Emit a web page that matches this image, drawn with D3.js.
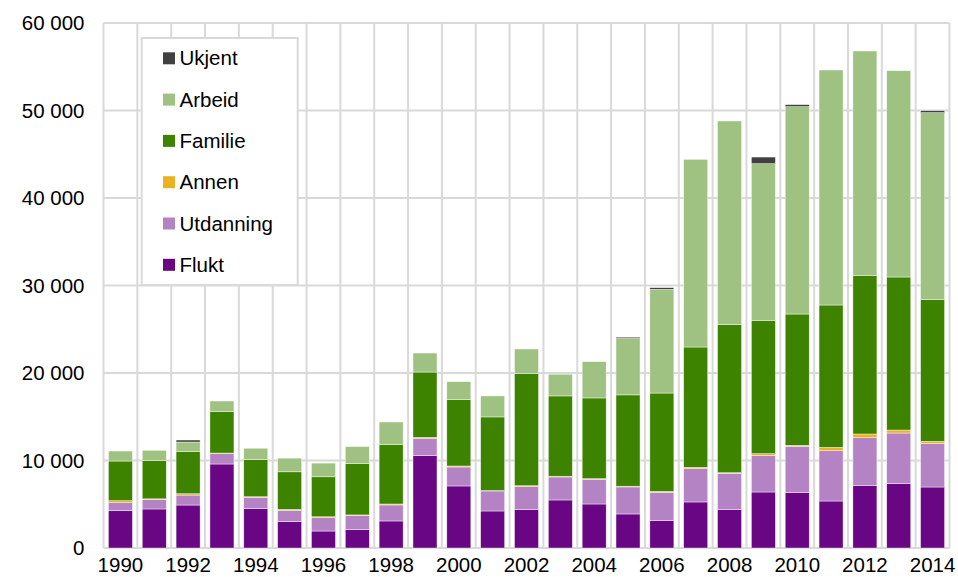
<!DOCTYPE html>
<html>
<meta charset="utf-8">
<style>
    body { margin: 0; background: #fff; }
    text { font-family: "Liberation Sans", Arial, sans-serif; fill: #000; }
    .grid line { stroke: #d9d9d9; stroke-width: 2px; }
    .bar rect { stroke: #fff; stroke-width: 0.6px; stroke-opacity: 0.7; }
</style>

<body>

    <!-- load the d3.js library -->
    <script src="https://d3js.org/d3.v7.min.js"></script>
    <script>

        // categories (years) and the x labels that are shown
        var years = [1990, 1991, 1992, 1993, 1994, 1995, 1996, 1997, 1998, 1999,
            2000, 2001, 2002, 2003, 2004, 2005, 2006, 2007, 2008, 2009,
            2010, 2011, 2012, 2013, 2014];
        var yearLabels = [1990, 1992, 1994, 1996, 1998, 2000, 2002, 2004, 2006, 2008, 2010, 2012, 2014];
        var yTicks = [0, 10000, 20000, 30000, 40000, 50000, 60000];

        // series values, one per year
        var flukt = [4260, 4460, 4910, 9600, 4530, 3010, 1940, 2100, 3090, 10550,
            7090, 4230, 4420, 5490, 5030, 3890, 3120, 5260, 4380, 6400,
            6320, 5370, 7120, 7350, 6970];
        var utdanning = [920, 1100, 1140, 1180, 1260, 1290, 1520, 1600, 1830, 1980,
            2170, 2290, 2590, 2630, 2820, 3090, 3240, 3810, 4150, 4190,
            5300, 5750, 5490, 5790, 4990];
        var annen = [230, 60, 150, 70, 70, 110, 110, 80, 110, 110,
            110, 40, 110, 80, 80, 80, 110, 150, 80, 190,
            110, 380, 420, 340, 230];
        var familie = [4530, 4360, 4840, 4730, 4240, 4300, 4570, 5870, 6780, 7470,
            7580, 8420, 12800, 9180, 9220, 10440, 11240, 13750, 16910, 15240,
            15010, 16270, 18130, 17490, 16230];
        var arbeid = [1140, 1180, 1070, 1220, 1300, 1560, 1560, 1940, 2590, 2170,
            2060, 2400, 2820, 2480, 4150, 6440, 11850, 21450, 23280, 17900,
            23700, 26860, 25640, 23580, 21330];
        var ukjent = [0, 0, 230, 0, 0, 0, 0, 0, 0, 0,
            0, 0, 0, 0, 0, 150, 190, 0, 0, 760,
            230, 0, 0, 0, 230];

        var keys = ["Flukt", "Utdanning", "Annen", "Familie", "Arbeid", "Ukjent"];
        var colors = {
            Flukt: "#690684",
            Utdanning: "#b483c4",
            Annen: "#ebb120",
            Familie: "#3e8300",
            Arbeid: "#9fc283",
            Ukjent: "#404040"
        };

        // build the table for d3.stack
        var table = years.map(function (yr, i) {
            return {
                year: yr, Flukt: flukt[i], Utdanning: utdanning[i], Annen: annen[i],
                Familie: familie[i], Arbeid: arbeid[i], Ukjent: ukjent[i]
            };
        });

        // set the dimensions and margins of the graph
        var margin = { top: 23, right: 8.5, bottom: 29, left: 103.5 },
            width = 958 - margin.left - margin.right,
            height = 577 - margin.top - margin.bottom;

        var svg = d3.select("body").append("svg")
            .attr("width", 958)
            .attr("height", 577)
            .append("g")
            .attr("transform", "translate(" + margin.left + "," + margin.top + ")");

        // set the ranges
        var x = d3.scaleBand().domain(years).range([0, width])
            .paddingInner(0.29).paddingOuter(0.145);
        var y = d3.scaleLinear().domain([0, 60000]).range([height, 0]);

        // grid lines
        var grid = svg.append("g").attr("class", "grid");
        grid.selectAll(".h").data(yTicks).enter().append("line")
            .attr("x1", 0).attr("x2", width)
            .attr("y1", function (d) { return y(d); })
            .attr("y2", function (d) { return y(d); });
        grid.selectAll(".v").data(d3.range(years.length + 1)).enter().append("line")
            .attr("x1", function (i) { return i * x.step(); })
            .attr("x2", function (i) { return i * x.step(); })
            .attr("y1", 0).attr("y2", height);

        // stacked bars
        var series = d3.stack().keys(keys)(table);
        svg.append("g").selectAll("g")
            .data(series).enter().append("g")
            .attr("class", "bar")
            .attr("fill", function (s) { return colors[s.key]; })
            .selectAll("rect")
            .data(function (s) { return s.filter(function (d) { return d[1] - d[0] > 0; }); })
            .enter().append("rect")
            .attr("x", function (d) { return x(d.data.year); })
            .attr("width", x.bandwidth())
            .attr("y", function (d) { return y(d[1]); })
            .attr("height", function (d) { return y(d[0]) - y(d[1]); });

        // axes
        var nf = d3.formatLocale({ decimal: ",", thousands: "\u00a0", grouping: [3], currency: ["", ""] }).format(",");

        var yAxis = svg.append("g")
            .call(d3.axisLeft(y).tickValues(yTicks).tickSize(0).tickPadding(19).tickFormat(nf));
        yAxis.select(".domain").remove();
        yAxis.selectAll("text").style("font-size", "20.5px").attr("fill", "#000")
            .style("font-family", "'Liberation Sans', Arial, sans-serif");

        var xAxis = svg.append("g")
            .attr("transform", "translate(0," + height + ")")
            .call(d3.axisBottom(x).tickValues(yearLabels).tickSize(0).tickPadding(9));
        xAxis.select(".domain").remove();
        xAxis.selectAll("text").style("font-size", "20.5px").attr("fill", "#000")
            .style("font-family", "'Liberation Sans', Arial, sans-serif");

        // legend
        var legend = d3.select("svg").append("g");
        legend.append("rect")
            .attr("x", 141.7).attr("y", 38)
            .attr("width", 156).attr("height", 247)
            .attr("fill", "#fff")
            .attr("stroke", "#d9d9d9")
            .attr("stroke-width", 2);

        var legendKeys = keys.slice().reverse();
        var item = legend.selectAll(".item").data(legendKeys).enter().append("g")
            .attr("transform", function (d, i) { return "translate(163," + (58.3 + i * 41.3) + ")"; });
        item.append("rect")
            .attr("x", 0).attr("y", -6)
            .attr("width", 12).attr("height", 12)
            .attr("fill", function (d) { return colors[d]; });
        item.append("text")
            .attr("x", 16.5).attr("dy", "0.35em")
            .style("font-size", "20.5px")
            .text(function (d) { return d; });

    </script>
</body>
</html>
